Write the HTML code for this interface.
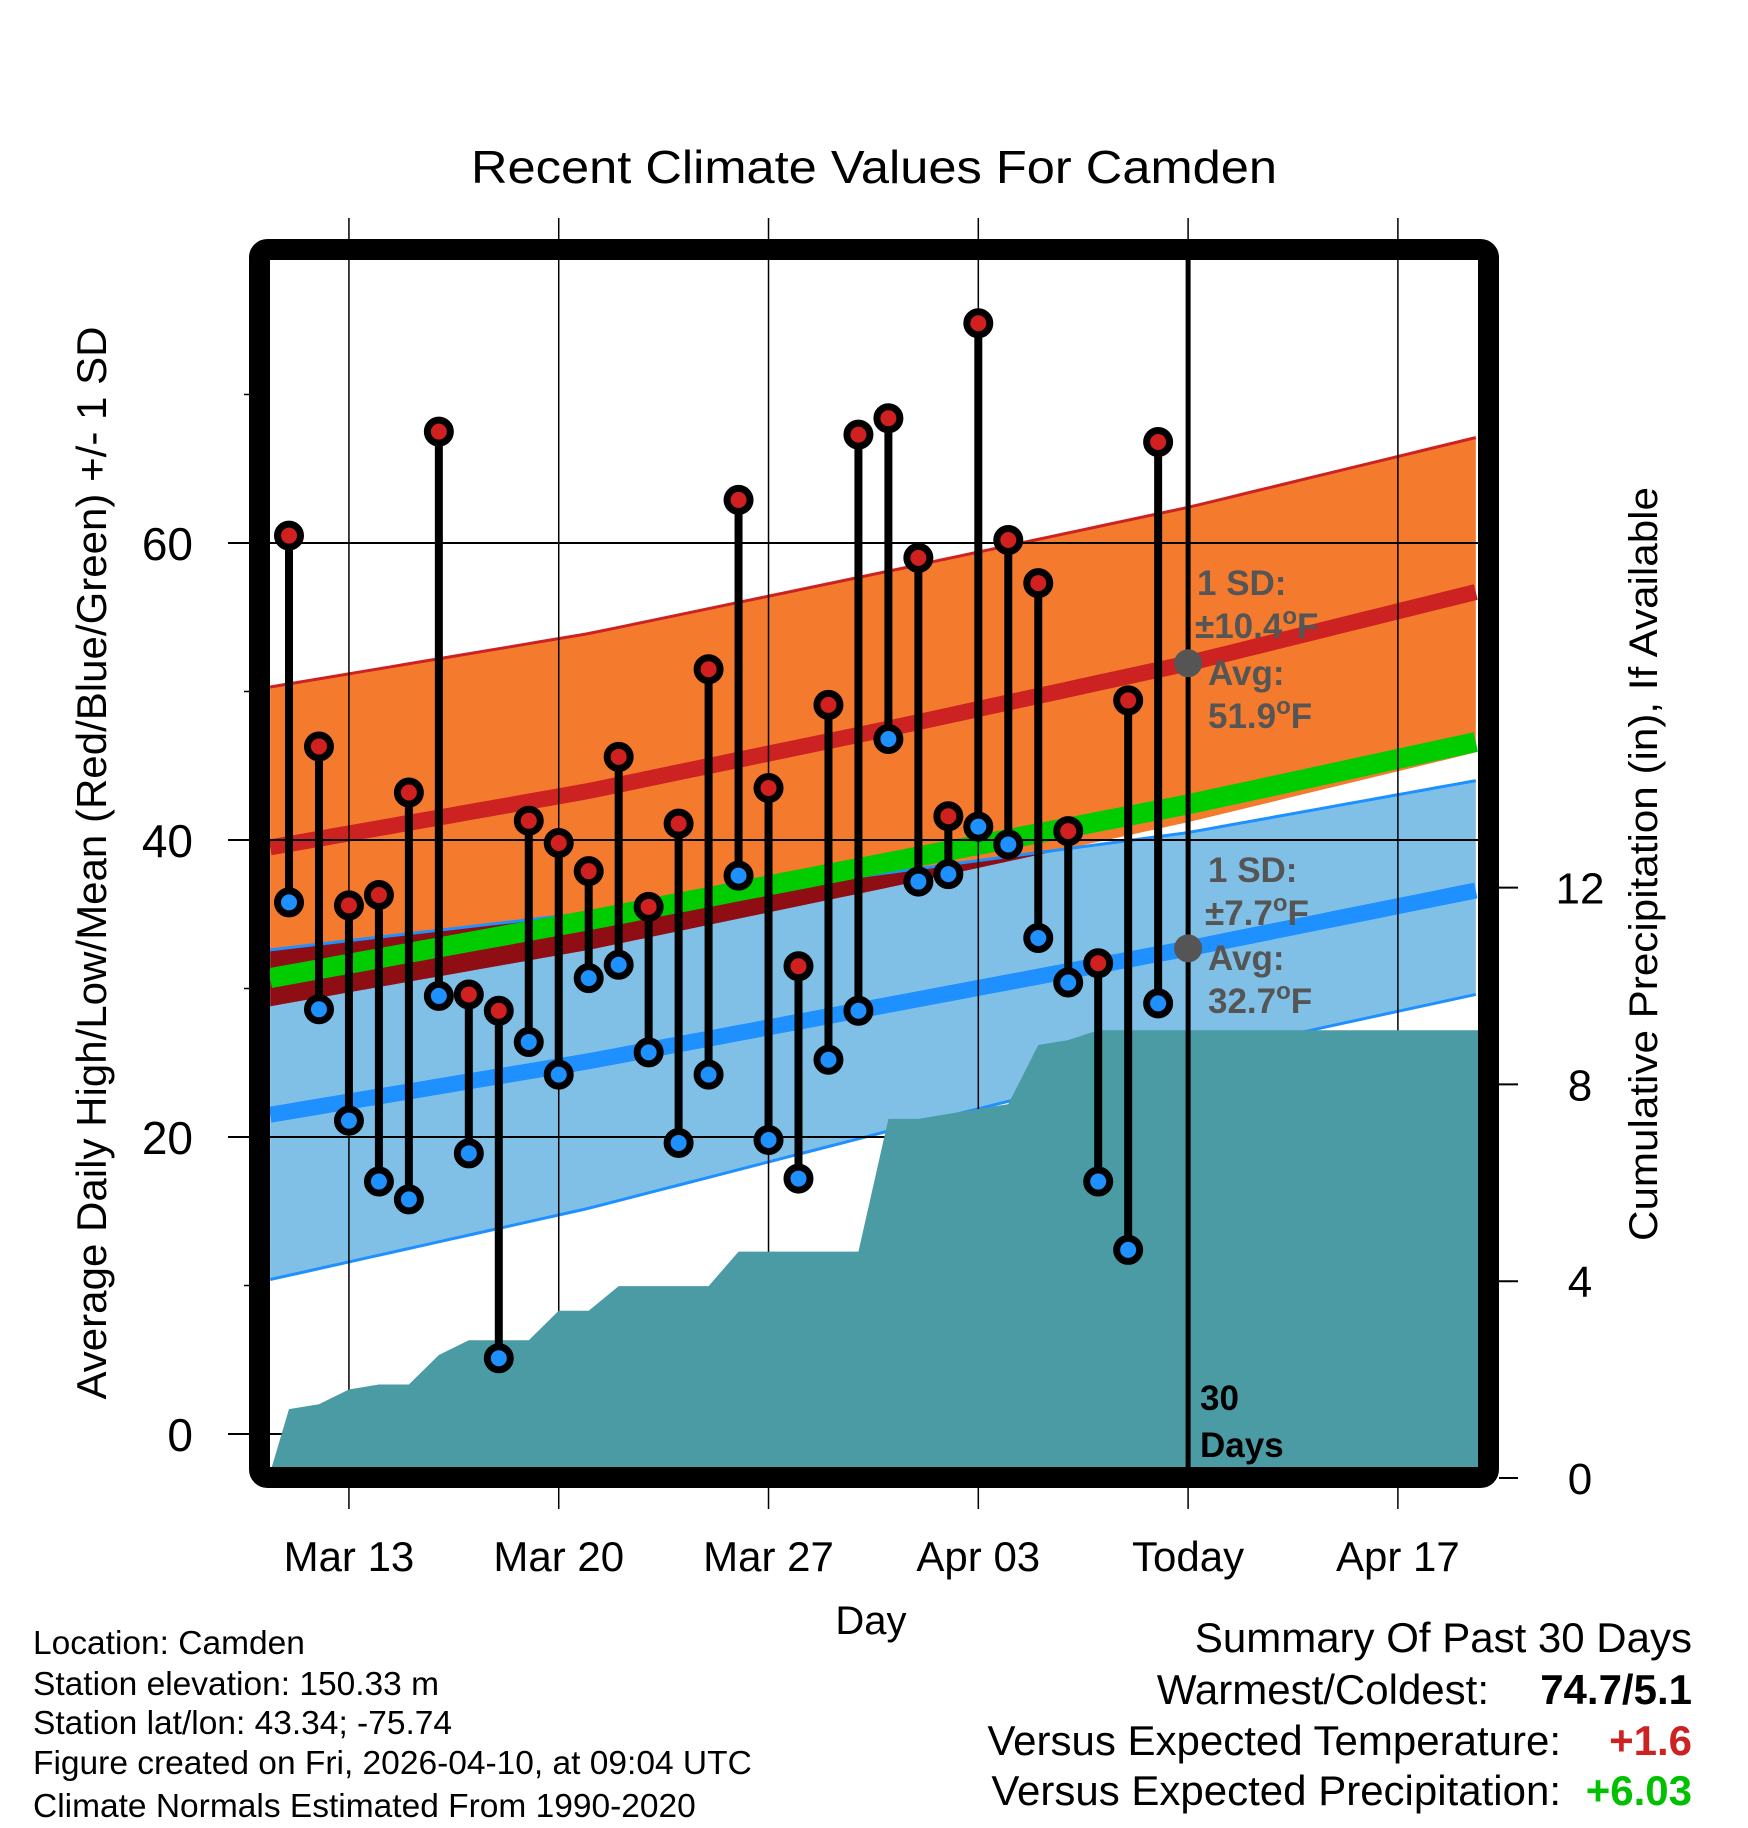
<!DOCTYPE html>
<html><head><meta charset="utf-8"><style>
html,body{margin:0;padding:0;background:#fff}
svg{display:block;font-family:"Liberation Sans",sans-serif}
</style></head><body>
<svg id="chart" width="1748" height="1828" viewBox="0 0 1748 1828" xmlns="http://www.w3.org/2000/svg">
<defs>
<clipPath id="inner"><rect x="270" y="260" width="1208" height="1208"/></clipPath>
</defs>
<rect width="1748" height="1828" fill="#fff"/>
<text x="874" y="183" font-size="46" text-anchor="middle" textLength="806" lengthAdjust="spacingAndGlyphs">Recent Climate Values For Camden</text>
<g id="plot" clip-path="url(#inner)"></g>
<g id="axes"></g>
<text transform="translate(106,863) rotate(-90)" font-size="42" text-anchor="middle" textLength="1073" lengthAdjust="spacingAndGlyphs">Average Daily High/Low/Mean (Red/Blue/Green) +/- 1 SD</text>
<text transform="translate(1657,864) rotate(-90)" font-size="40" text-anchor="middle" textLength="754" lengthAdjust="spacingAndGlyphs">Cumulative Precipitation (in), If Available</text>
<text x="871" y="1634" font-size="40" text-anchor="middle">Day</text>
<g font-size="33.5">
<text x="33" y="1654">Location: Camden</text>
<text x="33" y="1695">Station elevation: 150.33 m</text>
<text x="33" y="1734">Station lat/lon: 43.34; -75.74</text>
<text x="33" y="1774">Figure created on Fri, 2026-04-10, at 09:04 UTC</text>
<text x="33" y="1817">Climate Normals Estimated From 1990-2020</text>
</g>
<g font-size="42" text-anchor="end">
<text x="1692" y="1652">Summary Of Past 30 Days</text>
<text x="1489" y="1704">Warmest/Coldest:</text>
<text x="1692" y="1704" font-weight="bold">74.7/5.1</text>
<text x="1561" y="1755">Versus Expected Temperature:</text>
<text x="1692" y="1755" font-weight="bold" fill="#cc2222">+1.6</text>
<text x="1561" y="1805">Versus Expected Precipitation:</text>
<text x="1692" y="1805" font-weight="bold" fill="#00c000">+6.03</text>
</g>
</svg>
<script>
// ---- data ----
const highs = [60.5,46.3,35.6,36.3,43.2,67.5,29.6,28.5,41.3,39.8,37.9,45.6,35.5,41.1,51.5,62.9,43.5,31.5,49.1,67.3,68.4,59.0,41.6,74.8,60.2,57.3,40.6,31.7,49.4,66.8];
const lows  = [35.8,28.6,21.1,17.0,15.8,29.5,18.9,5.1,26.4,24.2,30.7,31.6,25.7,19.6,24.2,37.6,19.8,17.2,25.2,28.5,46.8,37.2,37.7,40.9,39.7,33.4,30.4,17.0,12.4,29.0];
const precip = [1.4,1.5,1.8,1.9,1.9,2.5,2.8,2.8,2.8,3.4,3.4,3.9,3.9,3.9,3.9,4.6,4.6,4.6,4.6,4.6,7.3,7.3,7.4,7.5,7.6,8.8,8.9,9.1,9.1,9.1];
const normDays   = [-0.63,10,20,30,39.6];
const normHigh   = [39.5,43.3,47.5,51.9,56.7];
const normHighUp = [50.3,53.9,58.1,62.4,67.1];
const normHighLo = [28.8,32.6,36.8,41.2,45.9];
const normMean   = [30.7,34.6,38.5,42.4,46.6];
const normLow    = [21.5,25.1,28.9,32.7,36.6];
const normLowUp  = [32.6,35.1,37.8,40.5,44.0];
const normLowLo  = [10.4,15.2,20.4,25.4,29.6];
const xTickDays  = [2,9,16,23,30,37];
const xTickLabels= ["Mar 13","Mar 20","Mar 27","Apr 03","Today","Apr 17"];
const yTicks = [0,20,40,60];
const yMinor = [10,30,50,70];
const pTicks = [0,4,8,12];
const todayDay = 30;
const hiSD = "10.4", loSD = "7.7", hiAvg = "51.9", loAvg = "32.7";

// ---- scales ----
const X = d => 289 + d*29.97;
const Y = v => 1434 - v*14.85;
const P = p => 1478 - p*49.2;
const NS = "http://www.w3.org/2000/svg";
const plotG = document.getElementById('plot');
const axesG = document.getElementById('axes');
const svgEl = document.getElementById('chart');
function mk(tag, parent, attrs){const el=document.createElementNS(NS,tag);for(const k in attrs)el.setAttribute(k,attrs[k]);parent.appendChild(el);return el;}
function interp(arr, d){
  const n=normDays.length;
  for(let i=0;i<n-1;i++){
    if(d<=normDays[i+1]||i===n-2){
      const t=(d-normDays[i])/(normDays[i+1]-normDays[i]);return arr[i]+t*(arr[i+1]-arr[i]);}
  }
  return arr[n-1];
}
function curve(arr){const pts=[];const d1=normDays[normDays.length-1];for(let d=normDays[0];d<d1;d+=0.5){pts.push([X(d),Y(interp(arr,d))]);}pts.push([X(d1),Y(interp(arr,d1))]);return pts;}
function band(up,lo){const a=curve(up),b=curve(lo).reverse();return a.concat(b).map(p=>p.join(',')).join(' ');}
function line(arr){return curve(arr).map(p=>p.join(',')).join(' ');}

let el;
el=mk('polygon',plotG,{points:band(normHighUp,normHighLo),fill:'#f47a2e'});


el=mk('polygon',plotG,{points:band(normLowUp,normLowLo),fill:'#80c0e6'});


const cp=mk('clipPath',svgEl.querySelector('defs'),{id:'hiband'});
mk('polygon',cp,{points:band(normHighUp,normHighLo)});
el=mk('polygon',plotG,{points:band(normLowUp,normLowLo),fill:'#8f0e14','clip-path':'url(#hiband)'});


[[normHighUp,'#cc2222'],[normLowUp,'#1e90ff'],[normLowLo,'#1e90ff']].forEach(([a,c])=>{
  el=mk('polyline',plotG,{points:line(a),fill:'none',stroke:c,'stroke-width':3});
  
  
});
el=mk('polyline',plotG,{points:line(normMean),fill:'none',stroke:'#00cc00','stroke-width':20});


el=mk('polyline',plotG,{points:line(normHigh),fill:'none',stroke:'#cc2222','stroke-width':16});


el=mk('polyline',plotG,{points:line(normLow),fill:'none',stroke:'#1e90ff','stroke-width':16});



yTicks.forEach(v=>{
  el=mk('line',axesG,{x1:228,x2:1478,y1:Y(v),y2:Y(v),stroke:'#000','stroke-width':2});
  
  
  el=mk('text',axesG,{x:193,y:Y(v)+17,'font-size':46,'text-anchor':'end'});
  el.textContent=v;
  
  
});
yMinor.forEach(v=>{
  el=mk('line',axesG,{x1:244,x2:270,y1:Y(v),y2:Y(v),stroke:'#000','stroke-width':1.5});
  
  
});
xTickDays.forEach((d,i)=>{
  el=mk('line',axesG,{x1:X(d),x2:X(d),y1:218,y2:1509,stroke:'#000','stroke-width':1.5});
  
  
  el=mk('text',axesG,{x:X(d),y:1571,'font-size':42,'text-anchor':'middle'});
  el.textContent=xTickLabels[i];
  
  
});
pTicks.forEach(p=>{
  el=mk('line',axesG,{x1:1499,x2:1518,y1:P(p),y2:P(p),stroke:'#000','stroke-width':2});
  
  
  el=mk('text',axesG,{x:1580,y:P(p)+16,'font-size':44,'text-anchor':'middle'});
  el.textContent=p;
  
  
});

const layerTop = mk('g',svgEl,{'clip-path':'url(#inner)'});
let pts=[[270,P(0.1)]];
precip.forEach((p,i)=>pts.push([X(i),P(p)]));
pts.push([1478,P(precip[precip.length-1])]);
pts.push([1478,1470]);pts.push([270,1470]);
el=mk('polygon',layerTop,{points:pts.map(p=>p.join(',')).join(' '),fill:'#4a9ba4'});



highs.forEach((h,i)=>{
  el=mk('line',layerTop,{x1:X(i),x2:X(i),y1:Y(h),y2:Y(lows[i]),stroke:'#000','stroke-width':8});
  
  
});
highs.forEach((h,i)=>{
  el=mk('circle',layerTop,{cx:X(i),cy:Y(h),r:11.5,fill:'#d02020',stroke:'#000','stroke-width':7});
  
  
  el=mk('circle',layerTop,{cx:X(i),cy:Y(lows[i]),r:11.5,fill:'#1e90ff',stroke:'#000','stroke-width':7});
  
  
});
el=mk('line',svgEl,{x1:X(todayDay),x2:X(todayDay),y1:260,y2:1468,stroke:'#000','stroke-width':5});


[interp(normHigh,todayDay),interp(normLow,todayDay)].forEach(v=>{
  el=mk('circle',svgEl,{cx:X(todayDay),cy:Y(v),r:14,fill:'#555'});
  
  
});
function ann(x,y,txt,sup,name){
  const t=mk('text',svgEl,{x:x,y:y,'font-size':35,'font-weight':'bold',fill:'#555'});
  t.appendChild(document.createTextNode(txt));
  if(sup){
    const s1=mk('tspan',t,{dy:-14,'font-size':24});s1.textContent='o';
    const s2=mk('tspan',t,{dy:14});s2.textContent='F';
  }
  
  
}
ann(1197,595,'1 SD:',false,'high-sd-label');
ann(1195,638,'±'+hiSD,true,'high-sd-value');
ann(1208,685,'Avg:',false,'high-avg-label');
ann(1208,728,hiAvg,true,'high-avg-value');
ann(1208,882,'1 SD:',false,'low-sd-label');
ann(1205,925,'±'+loSD,true,'low-sd-value');
ann(1208,970,'Avg:',false,'low-avg-label');
ann(1208,1013,loAvg,true,'low-avg-value');
el=mk('text',svgEl,{x:1200,y:1410,'font-size':35,'font-weight':'bold'});el.textContent='30';


el=mk('text',svgEl,{x:1200,y:1457,'font-size':35,'font-weight':'bold'});el.textContent='Days';


el=mk('rect',svgEl,{x:259.5,y:249.5,width:1229,height:1228,rx:8,fill:'none',stroke:'#000','stroke-width':21});


</script>
</body></html>
